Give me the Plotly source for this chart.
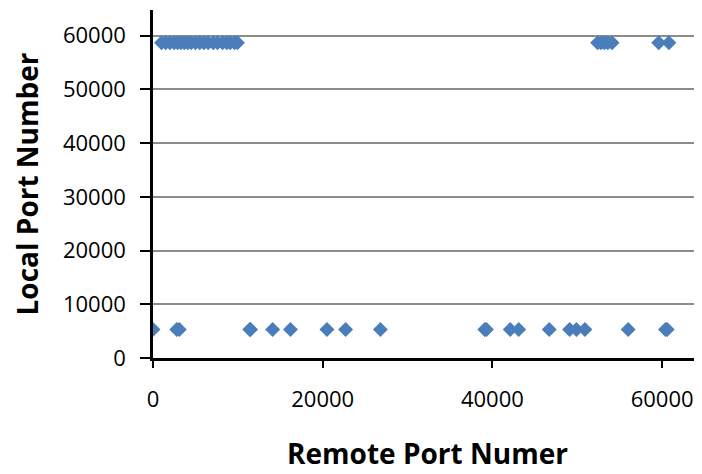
import plotly.graph_objects as go

# Remote port (x) / local port (y) observations
remote_low = [0, 2800, 3100, 11400, 11500, 14100, 16200, 20500, 22700, 26800,
              39100, 39300, 42100, 43100, 46700, 49100, 49900, 50900, 56000, 60400, 60600]
local_low = [5300] * len(remote_low)

remote_high = [1000, 1500, 2000, 2500, 2900, 3300, 3700, 4100, 4500, 5000,
               5500, 6000, 6500, 7100, 7600, 8200, 8700, 9100, 9600, 9950,
               52400, 52800, 53200, 53600, 54100, 59600, 60800]
local_high = [58700] * len(remote_high)

x_ticks = [0, 20000, 40000, 60000]
y_ticks = [0, 10000, 20000, 30000, 40000, 50000, 60000]

FONT = "Open Sans"

fig = go.Figure()
fig.add_trace(go.Scatter(
    x=remote_low + remote_high,
    y=local_low + local_high,
    mode="markers",
    marker=dict(symbol="diamond", size=11.5, color="#4A7EBB",
                line=dict(width=0)),
    showlegend=False,
))

# the page body adds an 8px margin, so the figure is sized to fill the rest
fig.update_layout(
    width=694, height=466,
    margin=dict(l=145, r=0, t=2, b=116),
    paper_bgcolor="white", plot_bgcolor="white",
    font=dict(family=FONT, color="#000000"),
    xaxis=dict(
        range=[0, 64700], tickvals=x_ticks, tickformat="d",
        automargin=False,
        showgrid=False, zeroline=False,
        showline=True, linecolor="black", linewidth=2.5,
        ticks="outside", ticklen=7, tickwidth=2, tickcolor="black",
        ticklabelstandoff=13,
        tickfont=dict(size=22, family=FONT),
        title=dict(text="<b>Remote Port Numer</b>", font=dict(size=28, family=FONT),
                   standoff=33),
    ),
    yaxis=dict(
        range=[0, 64800], tickvals=y_ticks, tickformat="d",
        automargin=False,
        showgrid=True, gridcolor="#8C8C8C", gridwidth=1.5,
        zeroline=False,
        showline=True, linecolor="black", linewidth=2.5,
        ticks="outside", ticklen=10, tickwidth=2, tickcolor="black",
        ticklabelstandoff=10,
        tickfont=dict(size=22, family=FONT),
        title=dict(text="<b>Local Port Number</b>", font=dict(size=28, family=FONT),
                   standoff=21),
    ),
)

fig.write_html("out.html")
